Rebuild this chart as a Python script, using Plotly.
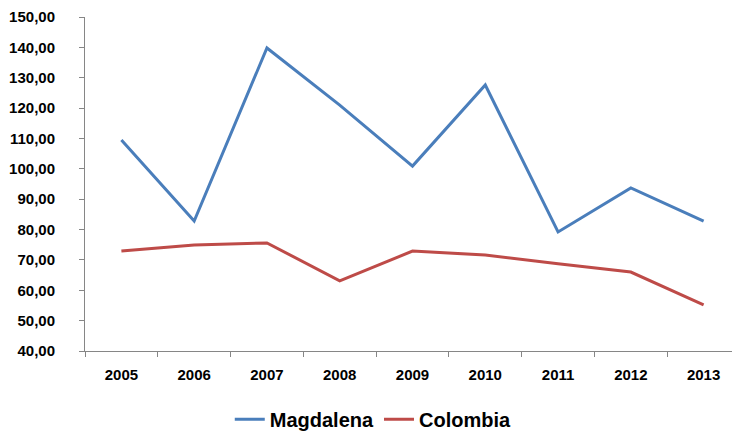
import plotly.graph_objects as go

years = ["2005", "2006", "2007", "2008", "2009", "2010", "2011", "2012", "2013"]
magdalena = [109.5, 82.8, 139.8, 121.0, 100.9, 127.6, 79.2, 93.7, 82.8]
colombia = [72.9, 74.9, 75.6, 63.1, 72.9, 71.6, 68.7, 66.0, 55.2]
y_ticks = [40, 50, 60, 70, 80, 90, 100, 110, 120, 130, 140, 150]

FONT = "Liberation Sans, Arial, sans-serif"

fig = go.Figure()
fig.add_trace(go.Scatter(x=years, y=magdalena, mode="lines", name="Magdalena",
                         line=dict(color="#4A7EBB", width=3)))
fig.add_trace(go.Scatter(x=years, y=colombia, mode="lines", name="Colombia",
                         line=dict(color="#BE4B48", width=3)))

fig.update_layout(
    width=732, height=424,
    margin=dict(l=77, r=0, t=9, b=81, autoexpand=False),
    paper_bgcolor="white", plot_bgcolor="white",
    font=dict(family=FONT, color="black"),
    separators=",.",
    showlegend=True,
    legend=dict(orientation="h", xref="container", yref="container",
                x=0.499, xanchor="center", y=0.03, yanchor="middle",
                font=dict(size=20, family=FONT, weight="bold"),
                itemwidth=30, tracegroupgap=0),
)
fig.update_xaxes(
    type="category", range=[-0.5, 8.5], automargin=False,
    showline=True, linecolor="#868686", linewidth=1,
    ticks="outside", tickson="boundaries", ticklen=5, tickcolor="#868686",
    showgrid=False, zeroline=False,
    tickfont=dict(size=15, family=FONT, weight="bold"),
    ticklabelstandoff=10, ticklabeloverflow="allow",
)
fig.update_yaxes(
    range=[40, 150], tickvals=y_ticks, tickformat=".2f", automargin=False,
    showline=True, linecolor="#868686", linewidth=1,
    ticks="outside", ticklen=5, tickcolor="#868686",
    showgrid=False, zeroline=False,
    tickfont=dict(size=15, family=FONT, weight="bold"),
    ticklabelstandoff=21, ticklabeloverflow="allow",
)

fig.write_html("out.html")
